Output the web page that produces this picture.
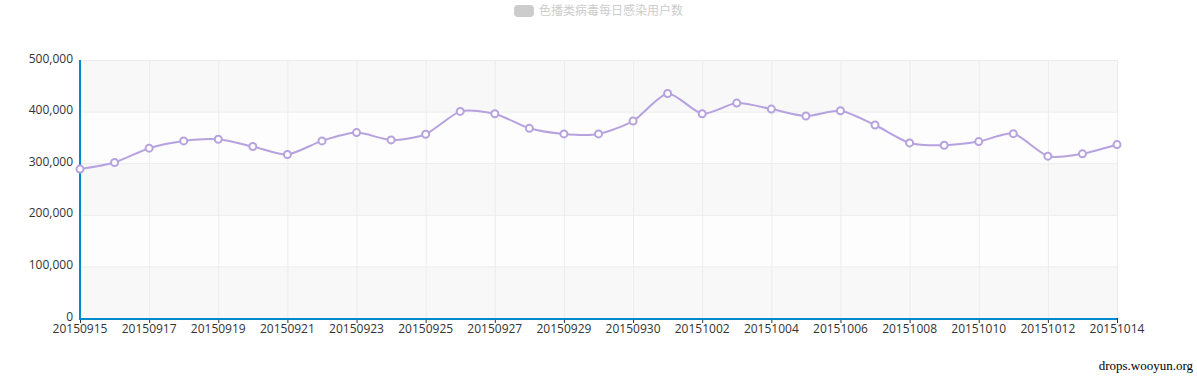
<!DOCTYPE html>
<html>
<head>
<meta charset="utf-8">
<script src="https://cdn.jsdelivr.net/npm/d3@7"></script>
<style>
  body { margin: 0; background: #fff; }
  svg { display: block; font-family: "Open Sans", "Noto Sans", sans-serif; }
</style>
</head>
<body>
<div id="chart"></div>
<script>
const seriesName = "色播类病毒每日感染用户数";

const dates = [
  "20150915", "20150916", "20150917", "20150918", "20150919", "20150920",
  "20150921", "20150922", "20150923", "20150924", "20150925", "20150926",
  "20150927", "20150928", "20150929", "20150930", "20150930", "20151001",
  "20151002", "20151003", "20151004", "20151005", "20151006", "20151007",
  "20151008", "20151009", "20151010", "20151011", "20151012", "20151013",
  "20151014"
];

const infected = [
  288600, 301400, 329100, 343200, 346400, 332300, 316900, 343200,
  359300, 345100, 356100, 400400, 395900, 367600, 356700, 356700,
  381800, 435100, 395900, 416500, 404900, 391400, 401700, 374000,
  339300, 334800, 341900, 357300, 313600, 318100, 336100
];

const yTicks = [0, 100000, 200000, 300000, 400000, 500000];

const width = 1197,
  height = 378;

const svg = d3
  .select("#chart")
  .append("svg")
  .attr("width", width)
  .attr("height", height);

const x = d3
  .scalePoint()
  .domain(d3.range(dates.length))
  .range([80, 1117]);

const y = d3
  .scaleLinear()
  .domain([0, 500000])
  .range([318, 60]);

// alternating split areas
const bands = d3.pairs(yTicks);
svg
  .append("g")
  .selectAll("rect")
  .data(bands)
  .join("rect")
  .attr("x", x(0))
  .attr("width", x(dates.length - 1) - x(0))
  .attr("y", (d) => y(d[1]))
  .attr("height", (d) => y(d[0]) - y(d[1]))
  .attr("fill", (d, i) => (i % 2 === 0 ? "#f8f8f8" : "#fdfdfd"));

// grid lines
const labelIdx = d3.range(0, dates.length, 2);
svg
  .append("g")
  .selectAll("line")
  .data(labelIdx)
  .join("line")
  .attr("x1", (d) => x(d) + 0.5)
  .attr("x2", (d) => x(d) + 0.5)
  .attr("y1", y(500000))
  .attr("y2", y(0))
  .attr("stroke", "#ececec");

svg
  .append("g")
  .selectAll("line")
  .data(yTicks)
  .join("line")
  .attr("x1", x(0))
  .attr("x2", x(dates.length - 1))
  .attr("y1", (d) => y(d) + 0.5)
  .attr("y2", (d) => y(d) + 0.5)
  .attr("stroke", "#ececec");

// y labels
const fmt = d3.format(",");
svg
  .append("g")
  .selectAll("text")
  .data(yTicks)
  .join("text")
  .attr("x", 73)
  .attr("y", (d) => y(d) - 1)
  .attr("dy", "0.3em")
  .attr("text-anchor", "end")
  .attr("font-size", 12)
  .attr("fill", "#333")
  .text((d) => fmt(d));

// x ticks + labels
const xg = svg.append("g");
xg.selectAll("line")
  .data(labelIdx)
  .join("line")
  .attr("x1", (d) => x(d) + 0.5)
  .attr("x2", (d) => x(d) + 0.5)
  .attr("y1", 318)
  .attr("y2", 323)
  .attr("stroke", "#333");
xg.selectAll("text")
  .data(labelIdx)
  .join("text")
  .attr("x", (d) => x(d))
  .attr("y", 333)
  .attr("text-anchor", "middle")
  .attr("font-size", 12)
  .attr("fill", "#333")
  .text((d) => dates[d]);

// axis lines
svg
  .append("line")
  .attr("x1", x(0))
  .attr("x2", x(dates.length - 1))
  .attr("y1", 319)
  .attr("y2", 319)
  .attr("stroke", "#008acd")
  .attr("stroke-width", 2);
svg
  .append("line")
  .attr("x1", x(0))
  .attr("x2", x(0))
  .attr("y1", y(500000))
  .attr("y2", 320)
  .attr("stroke", "#008acd")
  .attr("stroke-width", 2);

// series line
const line = d3
  .line()
  .x((d, i) => x(i))
  .y((d) => y(d))
  .curve(d3.curveCardinal.tension(0.3));

svg
  .append("path")
  .datum(infected)
  .attr("d", line)
  .attr("fill", "none")
  .attr("stroke", "#b6a2de")
  .attr("stroke-width", 2);

svg
  .append("g")
  .selectAll("circle")
  .data(infected)
  .join("circle")
  .attr("cx", (d, i) => x(i))
  .attr("cy", (d) => y(d))
  .attr("r", 3.5)
  .attr("fill", "#fff")
  .attr("stroke", "#b6a2de")
  .attr("stroke-width", 2);

// legend
const lg = svg.append("g").attr("transform", "translate(514,5)");
lg.append("rect")
  .attr("width", 20)
  .attr("height", 12)
  .attr("rx", 4)
  .attr("fill", "#ccc");
lg.append("text")
  .attr("x", 25)
  .attr("y", 6)
  .attr("dy", "0.35em")
  .attr("font-size", 12)
  .attr("fill", "#ccc")
  .attr("font-family", "'Noto Sans CJK SC', sans-serif")
  .text(seriesName);

// watermark
svg
  .append("text")
  .attr("x", 1193)
  .attr("y", 370)
  .attr("text-anchor", "end")
  .attr("font-size", 13)
  .attr("font-family", "'Liberation Serif', serif")
  .attr("fill", "#000")
  .text("drops.wooyun.org");
</script>
</body>
</html>
